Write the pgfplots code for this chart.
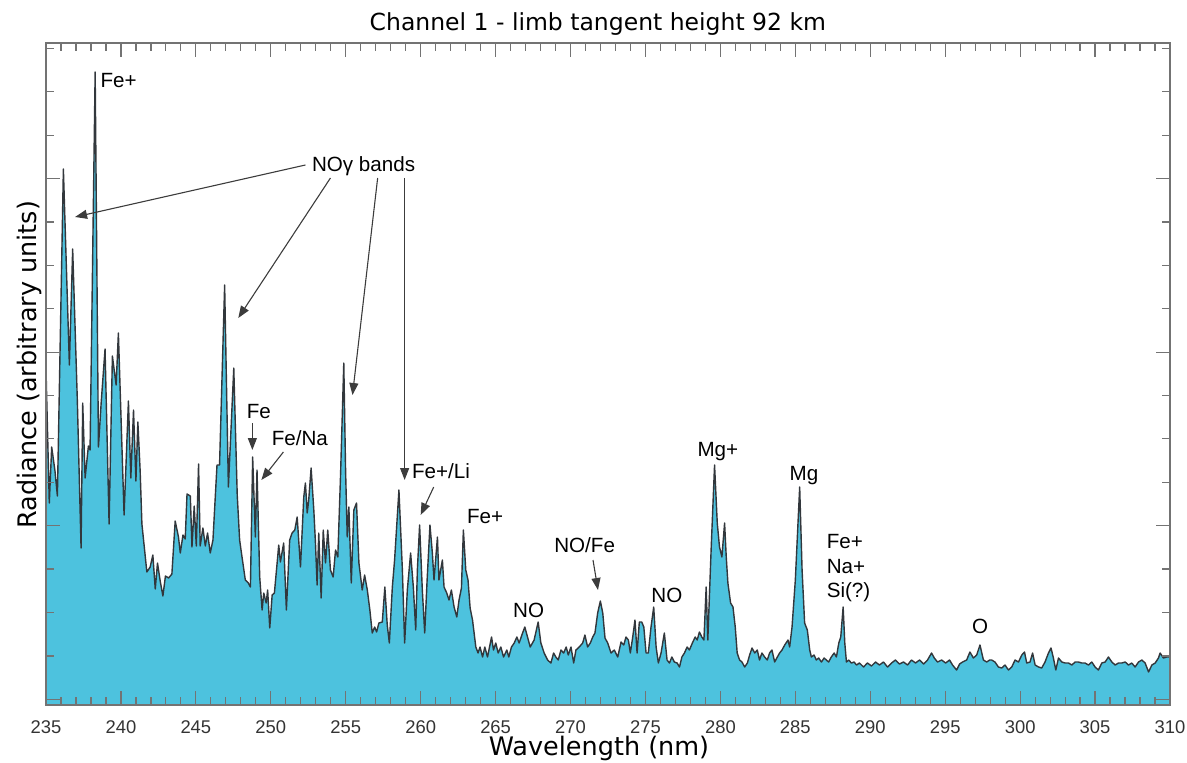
\documentclass[border=0pt]{standalone}
\usepackage{pgfplots}
\pgfplotsset{compat=1.18}
\usepackage{pgfplotstable}
\usepackage{fontspec}
\setmainfont{DejaVu Sans}
\newfontfamily\lsans{Liberation Sans}
\usetikzlibrary{arrows.meta}
\definecolor{specfill}{RGB}{77,194,222}
\definecolor{specline}{RGB}{50,55,60}
\definecolor{framegray}{RGB}{115,115,115}
\definecolor{arrowgray}{RGB}{60,60,60}

% limb spectrum, channel 1 (wavelength in nm, radiance in arbitrary units)
\pgfplotstableread{
nm rad
235.00 336
235.22 202
235.38 258
235.60 234
235.76 209
236.16 536
236.56 340
236.78 456
237.09 305
237.34 157
237.45 302
237.61 227
237.83 259
237.94 255
238.28 633
238.50 258
238.68 302
238.94 356
239.21 181
239.43 349
239.68 320
239.83 372
240.21 190
240.50 304
240.66 227
240.84 295
241.00 224
241.13 283
241.28 235
241.40 181
241.73 133
241.95 138
242.13 150
242.29 116
242.44 142
242.62 124
242.80 109
242.97 129
243.18 127
243.40 131
243.62 184
243.84 168
243.96 152
244.14 170
244.29 166
244.41 211
244.63 209
244.74 158
244.89 199
245.03 159
245.18 241
245.29 159
245.47 177
245.63 159
245.78 172
245.96 152
246.14 165
246.41 240
246.58 240
246.92 420
247.17 218
247.53 337
247.76 210
247.92 165
248.08 148
248.30 125
248.50 122
248.64 118
248.79 248
248.97 168
249.08 235
249.26 128
249.42 95
249.53 112
249.69 102
249.79 115
249.93 77
250.09 110
250.24 112
250.53 160
250.64 143
250.86 162
251.04 95
251.26 165
251.42 172
251.60 175
251.76 188
251.98 138
252.20 208
252.31 222
252.43 192
252.53 205
252.69 237
252.87 195
252.98 162
253.09 120
253.20 172
253.36 107
253.50 175
253.65 142
253.80 175
253.98 135
254.16 128
254.32 155
254.47 148
254.65 228
254.87 342
254.99 235
255.10 168
255.21 198
255.37 122
255.54 195
255.72 202
255.88 142
256.10 115
256.26 130
256.44 115
256.61 95
256.77 72
256.93 78
257.06 73
257.21 82
257.44 83
257.61 118
257.77 80
257.91 62
258.11 118
258.26 145
258.55 215
258.78 135
258.93 62
259.11 115
259.33 152
259.51 118
259.67 75
259.78 135
259.93 180
260.11 115
260.27 72
260.43 125
260.62 180
260.78 152
260.89 125
261.12 168
261.22 125
261.45 145
261.56 118
261.74 112
261.89 105
262.05 115
262.23 98
262.41 88
262.56 105
262.72 117
262.85 175
263.01 135
263.16 125
263.30 97
263.46 85
263.68 58
263.83 52
263.96 58
264.13 48
264.28 58
264.46 48
264.73 68
264.86 55
265.01 62
265.17 52
265.35 58
265.53 48
265.75 55
265.88 48
266.06 58
266.24 62
266.42 68
266.57 62
266.80 72
266.95 78
267.13 68
267.31 58
267.57 65
267.84 83
268.02 62
268.24 52
268.47 45
268.69 42
268.87 52
269.02 48
269.18 45
269.36 55
269.54 52
269.71 58
269.85 50
270.03 58
270.21 42
270.36 55
270.58 58
270.81 62
270.96 70
271.14 58
271.32 62
271.48 68
271.63 72
271.81 92
271.99 104
272.15 92
272.30 67
272.48 62
272.70 52
272.92 55
273.15 48
273.37 63
273.55 60
273.70 68
273.86 65
273.99 52
274.15 68
274.30 85
274.44 52
274.59 83
274.75 83
274.89 78
275.04 52
275.19 52
275.37 78
275.55 98
275.71 58
275.86 42
276.04 52
276.26 72
276.44 45
276.60 42
276.76 48
276.93 43
277.11 42
277.27 38
277.43 48
277.60 52
277.78 58
277.93 55
278.16 63
278.32 68
278.45 65
278.60 73
278.76 68
278.90 65
279.05 118
279.16 65
279.38 155
279.61 240
279.79 182
279.94 158
280.10 148
280.28 182
280.39 148
280.50 122
280.68 102
280.84 98
280.99 78
281.12 52
281.28 45
281.44 43
281.62 38
281.80 42
281.95 50
282.11 57
282.29 52
282.46 55
282.61 45
282.77 52
282.95 48
283.13 45
283.28 52
283.44 55
283.62 43
283.80 48
283.95 52
284.11 55
284.29 60
284.51 65
284.62 58
284.78 78
285.00 125
285.29 218
285.45 135
285.62 82
285.80 75
285.96 55
286.07 48
286.25 50
286.40 45
286.56 47
286.74 43
286.92 47
287.07 45
287.22 43
287.40 48
287.59 52
287.74 48
287.90 62
288.03 68
288.19 98
288.30 62
288.41 43
288.56 45
288.74 42
288.92 43
289.08 40
289.28 42
289.55 38
289.81 42
290.08 39
290.35 43
290.61 40
290.88 43
291.15 38
291.42 42
291.68 45
291.95 41
292.22 43
292.49 40
292.75 45
293.02 42
293.29 45
293.56 41
293.82 45
294.09 52
294.27 47
294.49 43
294.76 45
295.03 42
295.29 45
295.49 40
295.76 35
295.96 41
296.16 43
296.43 45
296.65 53
296.88 47
297.10 50
297.32 60
297.55 45
297.77 43
297.97 45
298.10 45
298.32 43
298.55 38
298.77 37
298.99 40
299.22 35
299.44 38
299.66 45
299.89 43
300.11 50
300.29 53
300.44 42
300.66 43
300.83 52
301.00 40
301.23 38
301.44 37
301.66 43
301.89 52
302.06 57
302.22 47
302.38 35
302.56 47
302.78 43
303.00 42
303.23 42
303.45 40
303.67 43
303.89 43
304.11 42
304.33 42
304.56 40
304.78 43
305.00 38
305.22 35
305.45 42
305.67 43
305.89 48
306.12 43
306.34 40
306.56 42
306.78 42
307.01 43
307.23 40
307.45 42
307.67 38
307.90 43
308.12 45
308.34 42
308.57 33
308.79 40
309.01 42
309.23 47
309.34 52
309.56 47
309.78 48
310.00 48
}\spectrum

\begin{document}
\begin{tikzpicture}
\begin{axis}[
  scale only axis, width=562pt, height=331pt,
  xmin=235, xmax=310, ymin=0, ymax=662,
  axis on top, clip=false,
  xtick={235,240,...,310}, minor x tick num=4,
  ytick={5.6,179.2,352.8,526.4}, yticklabels={},
  minor ytick={49,92.6,136,222.8,266.2,309.6,396.2,439.6,483,569.8,613.2,656.6},
  tick align=inside,
  major tick length=7pt, minor tick length=4pt,
  every tick/.style={framegray, line width=0.6pt},
  axis line style={framegray, line width=0.9pt},
  /pgf/number format/assume math mode=true,
  /pgf/number format/1000 sep={},
  xticklabel style={font=\lsans\fontsize{9.2}{10}\selectfont, text=black!80, anchor=base, inner sep=0pt, yshift=-14pt},
  title={Channel 1 - limb tangent height 92 km},
  title style={font=\fontsize{11.75}{14}\selectfont, at={(axis description cs:0.491,1)}, anchor=base, inner sep=0pt, yshift=0pt},
  xlabel={Wavelength (nm)},
  xlabel style={font=\fontsize{12.75}{15}\selectfont, at={(axis description cs:0.492,0)}, anchor=base, inner sep=0pt, yshift=-25pt},
  ylabel={Radiance (arbitrary units)},
  ylabel style={font=\fontsize{12.75}{15}\selectfont, at={(axis description cs:-0.0089,0.514)}, anchor=base, inner sep=0pt},
]
\addplot[draw=none, fill=specfill] table[x=nm, y=rad]{\spectrum} \closedcycle;
\addplot[specline, line width=0.7pt, line join=round] table[x=nm, y=rad]{\spectrum};

% line identifications
\begin{scope}[every node/.style={font=\lsans\fontsize{10.3}{12}\selectfont, anchor=base west, inner sep=0pt},
              arr/.style={arrowgray, line width=0.55pt, -{Triangle[length=6pt,width=4.5pt]}}]
\node at (axis cs:238.61,617) {Fe+};
\node[anchor=base] at (axis cs:256.19,533) {NOγ bands};
\draw[arr] (axis cs:252.31,540) -- (axis cs:236.94,488);
\draw[arr] (axis cs:253.98,527) -- (axis cs:247.83,387);
\draw[arr] (axis cs:257.13,527) -- (axis cs:255.45,310);
\draw[arr] (axis cs:258.93,527) -- (axis cs:258.93,225);
\node at (axis cs:248.37,287) {Fe};
\draw[arr] (axis cs:248.77,282) -- (axis cs:248.77,255);
\node at (axis cs:250.04,260) {Fe/Na};
\draw[arr] (axis cs:250.84,253) -- (axis cs:249.37,225);
\node at (axis cs:259.40,227) {Fe+/Li};
\draw[arr] (axis cs:260.87,218) -- (axis cs:260.00,190);
\node at (axis cs:263.07,182) {Fe+};
\node at (axis cs:266.15,88) {NO};
\node at (axis cs:268.89,153) {NO/Fe};
\draw[arr] (axis cs:271.50,145) -- (axis cs:271.83,115);
\node at (axis cs:275.37,103) {NO};
\node at (axis cs:278.45,249) {Mg+};
\node at (axis cs:284.60,225) {Mg};
\node at (axis cs:287.07,157) {Fe+};
\node at (axis cs:287.07,132) {Na+};
\node at (axis cs:287.07,108) {Si(?)};
\node at (axis cs:296.77,72) {O};
\end{scope}
\end{axis}
\pgfresetboundingbox
\path (-23pt,-28.5pt) rectangle (570.5pt,352.5pt);
\end{tikzpicture}
\end{document}
